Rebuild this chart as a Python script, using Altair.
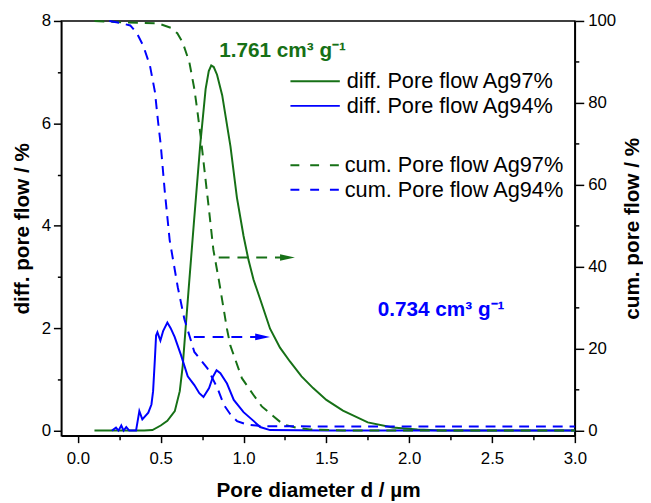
import altair as alt
import pandas as pd

GREEN = "#167016"
BLUE = "#0000ff"
FONT = "Liberation Sans"

# ---- data ----
ag97_diff_x = [0.10, 0.20, 0.30, 0.40, 0.45, 0.50, 0.54, 0.585, 0.615, 0.633, 0.65, 0.667, 0.70, 0.739,
               0.771, 0.79, 0.805, 0.82, 0.84, 0.871, 0.921, 0.96, 1.00, 1.03, 1.06, 1.10, 1.16, 1.22,
               1.28, 1.35, 1.42, 1.50, 1.60, 1.75, 1.90, 2.05, 2.20, 2.50, 3.00]
ag97_diff_y = [0.00, 0.00, 0.00, 0.00, 0.01, 0.10, 0.19, 0.38, 0.77, 1.27, 1.99, 2.70, 4.05, 5.60,
               6.67, 7.02, 7.13, 7.10, 6.95, 6.55, 5.55, 4.55, 3.80, 3.33, 2.95, 2.57, 1.99, 1.62,
               1.35, 1.06, 0.83, 0.60, 0.39, 0.16, 0.06, 0.02, 0.00, 0.00, 0.00]

ag94_diff_x = [0.206, 0.23, 0.245, 0.262, 0.276, 0.292, 0.31, 0.351, 0.371, 0.389, 0.425, 0.444, 0.454,
               0.465, 0.472, 0.48, 0.498, 0.515, 0.54, 0.56, 0.584, 0.623, 0.663, 0.703, 0.733, 0.758,
               0.792, 0.815, 0.837, 0.86, 0.90, 0.941, 1.00, 1.06, 1.10, 1.16, 1.50, 2.00, 3.00]
ag94_diff_y = [0.0, 0.06, 0.0, 0.10, 0.0, 0.07, 0.0, 0.0, 0.38, 0.22, 0.35, 0.51, 0.77,
               1.41, 1.86, 1.92, 1.76, 1.95, 2.11, 2.00, 1.83, 1.47, 1.06, 0.89, 0.73, 0.655,
               0.83, 1.05, 1.18, 1.12, 0.92, 0.60, 0.36, 0.19, 0.07, 0.01, 0.0, 0.0, 0.0]

ag97_cum_x = [0.10, 0.305, 0.484, 0.563, 0.60, 0.633, 0.673, 0.703, 0.722, 0.742, 0.768, 0.792, 0.818,
              0.852, 0.90, 0.92, 0.99, 1.06, 1.11, 1.18, 1.24, 1.32, 1.40, 1.60, 2.00, 3.00]
ag97_cum_y = [100.0, 99.6, 99.4, 98.3, 97.0, 94.7, 89.9, 83.4, 77.8, 71.5, 62.2, 53.7, 44.1,
              36.5, 24.8, 20.8, 12.8, 8.7, 5.9, 3.5, 1.5, 0.7, 0.3, 0.05, 0.0, 0.0]

ag94_cum_x = [0.19, 0.256, 0.316, 0.355, 0.395, 0.435, 0.465, 0.484, 0.50, 0.524, 0.554, 0.603, 0.643,
              0.703, 0.782, 0.842, 0.881, 0.92, 0.961, 1.02, 1.10, 1.50, 2.00, 3.00]
ag94_cum_y = [100.0, 99.5, 98.9, 97.1, 93.9, 89.1, 82.7, 75.4, 69.8, 58.6, 46.5, 35.0, 27.2,
              19.2, 15.2, 10.4, 6.3, 4.0, 2.3, 1.5, 1.1, 1.0, 1.0, 1.0]

diff_labels = ["diff. Pore flow Ag97%", "diff. Pore flow Ag94%"]
cum_labels = ["cum. Pore flow Ag97%", "cum. Pore flow Ag94%"]

arrow_y = [3.38, 1.83]          # on the left axis
arrow_start = [0.85, 0.70]
arrow_head = [1.265, 1.115]     # centre of the arrowhead

annot_text = ["1.761 cm³ g⁻¹", "0.734 cm³ g⁻¹"]
annot_x = [0.853, 1.81]
annot_y = [7.29, 2.24]

x_ticks = [i * 0.25 for i in range(13)]
yl_ticks = list(range(0, 9))
yr_ticks = list(range(0, 101, 10))

# ---- tables ----
diff_df = pd.concat([
    pd.DataFrame({"x": ag97_diff_x, "y": ag97_diff_y, "series": diff_labels[0]}),
    pd.DataFrame({"x": ag94_diff_x, "y": ag94_diff_y, "series": diff_labels[1]}),
])
cum_df = pd.concat([
    pd.DataFrame({"x": ag97_cum_x, "y": ag97_cum_y, "series2": cum_labels[0]}),
    pd.DataFrame({"x": ag94_cum_x, "y": ag94_cum_y, "series2": cum_labels[1]}),
])

axis_common = dict(grid=False, domainColor="black", domainWidth=1.5, tickColor="black", tickWidth=1.5,
                   labelColor="black", labelFont=FONT, labelFontSize=17, titleFont=FONT, titleFontSize=21,
                   titleFontWeight="bold", titleColor="black", labelOverlap=False, labelFlush=False)

x_axis = alt.Axis(values=x_ticks,
                  labelExpr="datum.value % 0.5 ? '' : format(datum.value, '.1f')",
                  tickSize={"condition": {"test": "datum.value % 0.5", "value": 4}, "value": 7},
                  labelPadding=8, title="Pore diameter d / µm", titleY=62, titleBaseline="alphabetic",
                  **axis_common)
yl_axis = alt.Axis(values=yl_ticks, orient="left",
                   labelExpr="datum.value % 2 ? '' : datum.label",
                   tickSize={"condition": {"test": "datum.value % 2", "value": 4}, "value": 8},
                   labelPadding=3, title="diff. pore flow / %", titleAngle=270, titleX=-33,
                   titleBaseline="alphabetic", **axis_common)
yr_axis = alt.Axis(values=yr_ticks, orient="right",
                   labelExpr="datum.value % 20 ? '' : datum.label",
                   tickSize={"condition": {"test": "datum.value % 20", "value": 4}, "value": 9},
                   labelPadding=4, title="cum. pore flow / %", titleAngle=270, titleX=64,
                   titleBaseline="alphabetic", **axis_common)

x_enc = alt.X("x:Q", scale=alt.Scale(domain=[-0.1, 3.0], nice=False, zero=False), axis=x_axis)
yl_enc = alt.Y("y:Q", scale=alt.Scale(domain=[-0.1, 8.0], nice=False, zero=False), axis=yl_axis)
yr_enc = alt.Y("y:Q", scale=alt.Scale(domain=[-1.25, 100.0], nice=False, zero=False), axis=yr_axis)

legend_common = dict(orient="none", title=None, symbolType="M-2.5,0L2.5,0", symbolSize=400,
                     symbolStrokeWidth=2, labelFont=FONT, labelFontSize=22, labelColor="black",
                     labelLimit=400, rowPadding=3, padding=0)

diff_lines = alt.Chart(diff_df).mark_line(strokeWidth=2).encode(
    x=x_enc, y=yl_enc,
    color=alt.Color("series:N", scale=alt.Scale(domain=diff_labels, range=[GREEN, BLUE]),
                    legend=alt.Legend(legendX=246, legendY=50, labelOffset=21, **legend_common)),
)

arrow_layers = []
head_shape = "M-1,-0.45L1,0L-1,0.45Z"
for i, col in enumerate([GREEN, BLUE]):
    adf = pd.DataFrame({"x": [arrow_start[i]], "x2": [arrow_head[i]], "y": [arrow_y[i]]})
    arrow_layers.append(alt.Chart(adf).mark_rule(color=col, strokeWidth=2, strokeDash=[11, 8]).encode(
        x=x_enc, x2="x2:Q", y=yl_enc))
    hdf = pd.DataFrame({"x": [arrow_head[i]], "y": [arrow_y[i]]})
    arrow_layers.append(alt.Chart(hdf).mark_point(shape=head_shape, size=225, filled=True, opacity=1,
                                                  color=col).encode(x=x_enc, y=yl_enc))

text_layers = []
for i, col in enumerate([GREEN, BLUE]):
    tdf = pd.DataFrame({"x": [annot_x[i]], "y": [annot_y[i]], "t": [annot_text[i]]})
    text_layers.append(alt.Chart(tdf).mark_text(align="left", baseline="alphabetic", font=FONT,
                                                fontSize=21, fontWeight="bold", color=col).encode(
        x=x_enc, y=yl_enc, text="t:N"))

left = alt.layer(diff_lines, *arrow_layers, *text_layers)

cum_lines = alt.Chart(cum_df).mark_line(strokeWidth=2, strokeDash=[10, 7]).encode(
    x=x_enc, y=yr_enc,
    color=alt.Color("series2:N", scale=alt.Scale(domain=cum_labels, range=[GREEN, BLUE]),
                    legend=alt.Legend(legendX=246, legendY=135, labelOffset=19, symbolDash=[9, 11],
                                      **legend_common)),
)

chart = alt.layer(left, cum_lines).resolve_scale(y="independent", color="independent").properties(
    width=520, height=420,
    padding={"left": 54, "top": 10, "right": 69, "bottom": 65},
    autosize=alt.AutoSizeParams(type="none"),
).configure_view(stroke="black", strokeWidth=1.5)

chart.save("out.html", embed_options={"renderer": "svg", "actions": False})
